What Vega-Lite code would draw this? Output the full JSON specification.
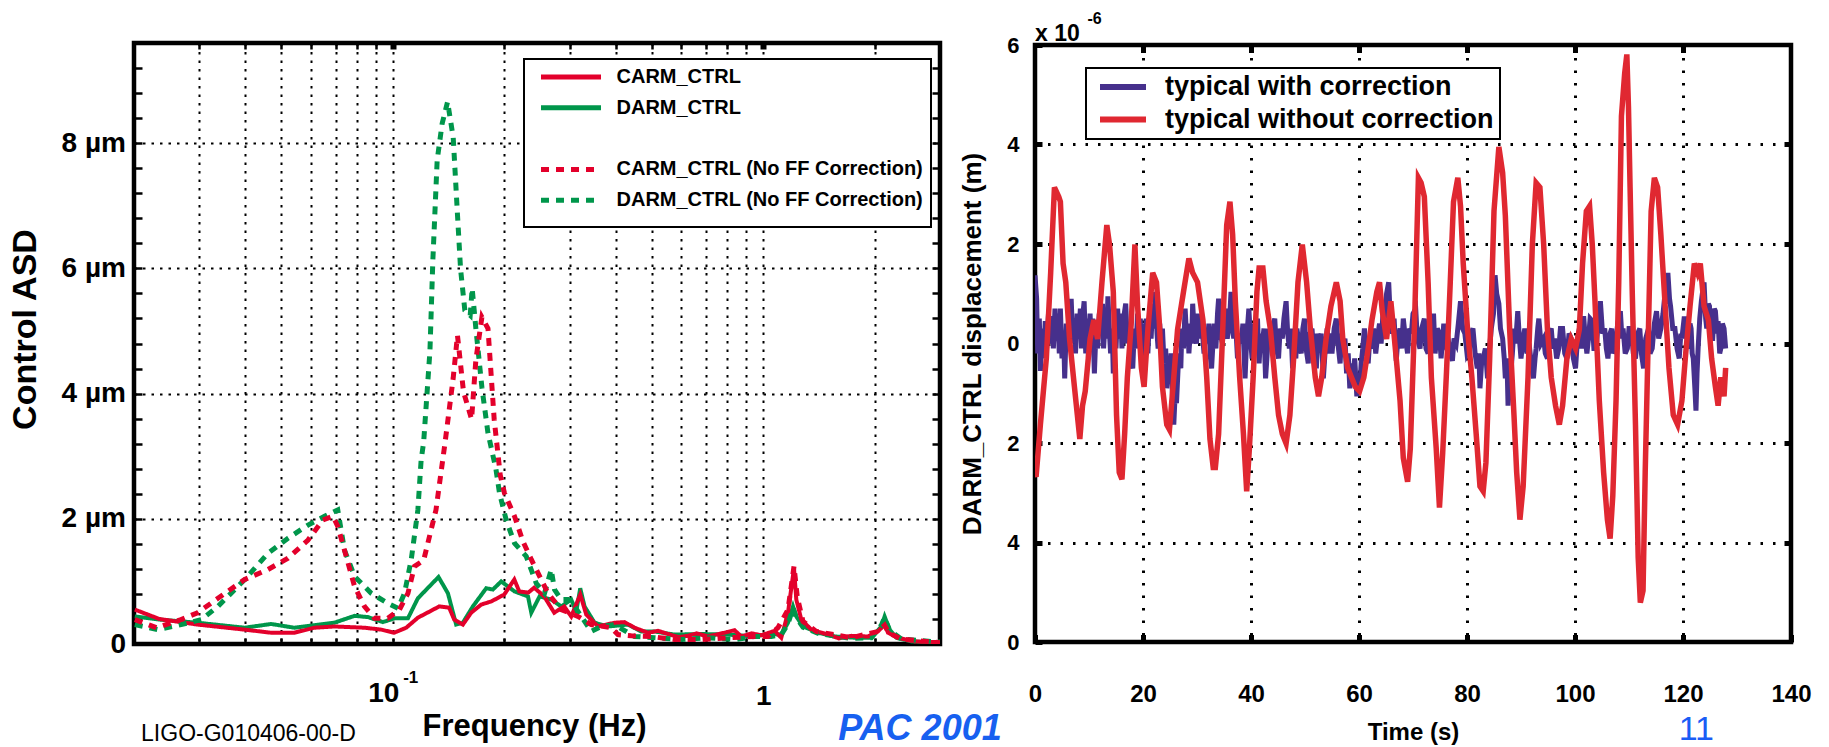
{
  "$schema": "https://vega.github.io/schema/vega-lite/v6.json",
  "background": "white",
  "padding": {"left": 5, "top": 8, "right": 5, "bottom": 0},
  "spacing": 95,
  "bounds": "flush",
  "center": true,
  "resolve": {"scale": {"color": "independent", "strokeDash": "independent"}, "legend": {"color": "independent", "strokeDash": "independent"}},
  "config": {
    "font": "Liberation Sans",
    "view": {"stroke": "black", "strokeWidth": 4.5},
    "axis": {"domain": false, "labelColor": "black", "titleColor": "black", "tickColor": "black", "gridColor": "black", "labelFontWeight": "bold", "titleFontWeight": "bold", "labelFlush": false, "labelOverlap": false, "labelFont": "Liberation Sans", "titleFont": "Liberation Sans", "labelBound": false},
    "legend": {"symbolType": "stroke", "labelColor": "black", "labelFont": "Liberation Sans", "labelFontWeight": "bold", "strokeColor": "black", "fillColor": "white", "strokeWidth": 2, "labelLimit": 800, "direction": "vertical"}
  },
  "datasets": {
    "carm": [
      {"f":0.0201,"a":0.55},{"f":0.0234,"a":0.40},{"f":0.0297,"a":0.31},{"f":0.0397,"a":0.23},{"f":0.0469,"a":0.18},{"f":0.0542,"a":0.18},{"f":0.0613,"a":0.26},{"f":0.0694,"a":0.28},{"f":0.0837,"a":0.26},{"f":0.093,"a":0.23},{"f":0.1008,"a":0.18},{"f":0.1086,"a":0.26},{"f":0.1168,"a":0.42},{"f":0.1334,"a":0.60},{"f":0.1419,"a":0.58},{"f":0.1464,"a":0.39},{"f":0.1545,"a":0.31},{"f":0.1627,"a":0.50},{"f":0.1732,"a":0.63},{"f":0.1844,"a":0.68},{"f":0.1998,"a":0.79},{"f":0.2127,"a":1.03},{"f":0.2194,"a":0.84},{"f":0.232,"a":0.82},{"f":0.2407,"a":0.90},{"f":0.2562,"a":0.76},{"f":0.2726,"a":0.50},{"f":0.2901,"a":0.60},{"f":0.303,"a":0.44},{"f":0.3205,"a":0.79},{"f":0.3327,"a":0.47},{"f":0.3578,"a":0.28},{"f":0.3967,"a":0.34},{"f":0.4221,"a":0.35},{"f":0.4491,"a":0.26},{"f":0.4882,"a":0.18},{"f":0.52,"a":0.21},{"f":0.5527,"a":0.16},{"f":0.59,"a":0.11},{"f":0.6262,"a":0.13},{"f":0.66,"a":0.17},{"f":0.7091,"a":0.12},{"f":0.76,"a":0.16},{"f":0.8366,"a":0.22},{"f":0.8722,"a":0.12},{"f":0.93,"a":0.17},{"f":0.9877,"a":0.14},{"f":1.0728,"a":0.21},{"f":1.1184,"a":0.10},{"f":1.1661,"a":0.50},{"f":1.1851,"a":0.81},{"f":1.2105,"a":1.21},{"f":1.2279,"a":0.71},{"f":1.2667,"a":0.39},{"f":1.3478,"a":0.23},{"f":1.4953,"a":0.15},{"f":1.6,"a":0.09},{"f":1.7288,"a":0.13},{"f":1.9176,"a":0.12},{"f":2.04,"a":0.20},{"f":2.126,"a":0.31},{"f":2.171,"a":0.18},{"f":2.31,"a":0.10},{"f":2.562,"a":0.04},{"f":3.0,"a":0.03}
    ],
    "darm": [
      {"f":0.0201,"a":0.44},{"f":0.0234,"a":0.39},{"f":0.0297,"a":0.34},{"f":0.0398,"a":0.26},{"f":0.0469,"a":0.32},{"f":0.0542,"a":0.26},{"f":0.0614,"a":0.30},{"f":0.0695,"a":0.34},{"f":0.0788,"a":0.45},{"f":0.0856,"a":0.43},{"f":0.094,"a":0.35},{"f":0.101,"a":0.41},{"f":0.1098,"a":0.41},{"f":0.1168,"a":0.73},{"f":0.1328,"a":1.07},{"f":0.1408,"a":0.81},{"f":0.1482,"a":0.31},{"f":0.1545,"a":0.34},{"f":0.1644,"a":0.60},{"f":0.1786,"a":0.89},{"f":0.1862,"a":0.87},{"f":0.1961,"a":1.00},{"f":0.213,"a":0.84},{"f":0.2316,"a":0.76},{"f":0.2364,"a":0.50},{"f":0.2489,"a":0.76},{"f":0.2676,"a":0.71},{"f":0.2848,"a":0.60},{"f":0.303,"a":0.71},{"f":0.3126,"a":0.52},{"f":0.3205,"a":0.89},{"f":0.3292,"a":0.60},{"f":0.3503,"a":0.34},{"f":0.3808,"a":0.28},{"f":0.4311,"a":0.31},{"f":0.4683,"a":0.20},{"f":0.5088,"a":0.20},{"f":0.5762,"a":0.15},{"f":0.6801,"a":0.16},{"f":0.803,"a":0.15},{"f":0.9474,"a":0.12},{"f":1.0297,"a":0.16},{"f":1.1184,"a":0.15},{"f":1.1661,"a":0.34},{"f":1.203,"a":0.60},{"f":1.2279,"a":0.44},{"f":1.2801,"a":0.28},{"f":1.4052,"a":0.18},{"f":1.5578,"a":0.12},{"f":1.7646,"a":0.10},{"f":1.9576,"a":0.10},{"f":2.0833,"a":0.28},{"f":2.126,"a":0.44},{"f":2.193,"a":0.23},{"f":2.287,"a":0.10},{"f":2.51,"a":0.04},{"f":3.0,"a":0.03}
    ],
    "carmnf": [
      {"f":0.0201,"a":0.39},{"f":0.023,"a":0.26},{"f":0.0265,"a":0.38},{"f":0.0297,"a":0.50},{"f":0.0337,"a":0.73},{"f":0.0398,"a":1.03},{"f":0.046,"a":1.19},{"f":0.0521,"a":1.37},{"f":0.059,"a":1.66},{"f":0.0647,"a":1.98},{"f":0.0689,"a":2.04},{"f":0.071,"a":1.88},{"f":0.0748,"a":1.40},{"f":0.0788,"a":0.92},{"f":0.0838,"a":0.60},{"f":0.0892,"a":0.41},{"f":0.0969,"a":0.41},{"f":0.1042,"a":0.55},{"f":0.1098,"a":0.81},{"f":0.1144,"a":1.24},{"f":0.1211,"a":1.34},{"f":0.1307,"a":2.14},{"f":0.1384,"a":3.23},{"f":0.1455,"a":4.25},{"f":0.1494,"a":4.93},{"f":0.1551,"a":4.03},{"f":0.1631,"a":3.59},{"f":0.1675,"a":4.54},{"f":0.1739,"a":5.22},{"f":0.1806,"a":5.04},{"f":0.1877,"a":3.59},{"f":0.1949,"a":2.70},{"f":0.2001,"a":2.41},{"f":0.213,"a":2.04},{"f":0.2244,"a":1.64},{"f":0.2364,"a":1.35},{"f":0.2515,"a":1.03},{"f":0.2622,"a":0.81},{"f":0.2848,"a":0.55},{"f":0.3159,"a":0.44},{"f":0.3432,"a":0.31},{"f":0.3886,"a":0.26},{"f":0.4052,"a":0.15},{"f":0.44,"a":0.13},{"f":0.4984,"a":0.12},{"f":0.5762,"a":0.07},{"f":0.6801,"a":0.07},{"f":0.803,"a":0.10},{"f":0.9474,"a":0.12},{"f":1.0297,"a":0.12},{"f":1.0957,"a":0.26},{"f":1.1661,"a":0.55},{"f":1.2105,"a":1.24},{"f":1.2356,"a":0.75},{"f":1.2801,"a":0.36},{"f":1.3904,"a":0.20},{"f":1.7288,"a":0.10},{"f":2.04,"a":0.20},{"f":2.126,"a":0.30},{"f":2.18,"a":0.18},{"f":2.359,"a":0.08},{"f":3.0,"a":0.02}
    ],
    "darmnf": [
      {"f":0.0201,"a":0.31},{"f":0.0232,"a":0.23},{"f":0.0268,"a":0.31},{"f":0.0304,"a":0.39},{"f":0.0337,"a":0.60},{"f":0.0398,"a":1.03},{"f":0.046,"a":1.45},{"f":0.0521,"a":1.69},{"f":0.059,"a":1.90},{"f":0.0654,"a":2.04},{"f":0.071,"a":2.14},{"f":0.074,"a":1.50},{"f":0.0788,"a":1.08},{"f":0.0874,"a":0.81},{"f":0.0969,"a":0.65},{"f":0.1032,"a":0.57},{"f":0.1075,"a":0.81},{"f":0.1121,"a":1.35},{"f":0.1168,"a":2.14},{"f":0.1192,"a":2.94},{"f":0.1211,"a":3.23},{"f":0.1259,"a":4.68},{"f":0.1282,"a":6.13},{"f":0.1317,"a":7.73},{"f":0.1358,"a":8.31},{"f":0.1405,"a":8.66},{"f":0.1455,"a":8.09},{"f":0.1494,"a":6.86},{"f":0.1523,"a":5.99},{"f":0.1564,"a":5.33},{"f":0.1617,"a":5.25},{"f":0.1637,"a":5.68},{"f":0.1675,"a":5.04},{"f":0.1739,"a":4.10},{"f":0.1806,"a":3.37},{"f":0.1898,"a":2.79},{"f":0.194,"a":2.41},{"f":0.2023,"a":1.98},{"f":0.213,"a":1.61},{"f":0.2291,"a":1.40},{"f":0.2438,"a":0.97},{"f":0.2567,"a":0.81},{"f":0.2676,"a":1.19},{"f":0.2731,"a":0.87},{"f":0.2848,"a":0.71},{"f":0.297,"a":0.71},{"f":0.3094,"a":0.60},{"f":0.3364,"a":0.28},{"f":0.3432,"a":0.20},{"f":0.3652,"a":0.28},{"f":0.3967,"a":0.31},{"f":0.4491,"a":0.12},{"f":0.5088,"a":0.10},{"f":0.6005,"a":0.07},{"f":0.7091,"a":0.10},{"f":0.8366,"a":0.07},{"f":0.9474,"a":0.12},{"f":1.051,"a":0.12},{"f":1.1184,"a":0.15},{"f":1.1661,"a":0.32},{"f":1.203,"a":0.58},{"f":1.2279,"a":0.42},{"f":1.2801,"a":0.27},{"f":1.4052,"a":0.17},{"f":1.7288,"a":0.09},{"f":1.9576,"a":0.10},{"f":2.0833,"a":0.30},{"f":2.126,"a":0.42},{"f":2.193,"a":0.22},{"f":2.359,"a":0.08},{"f":3.0,"a":0.03}
    ],
    "withc": [
      {"t":0.0,"v":1.37},{"t":0.3,"v":0.9},{"t":0.5,"v":-0.2},{"t":0.8,"v":0.5},{"t":1.0,"v":-0.55},{"t":1.3,"v":0.3},{"t":1.6,"v":-0.3},{"t":1.9,"v":0.45},{"t":2.1,"v":-0.2},{"t":2.5,"v":0.6},{"t":2.8,"v":0.0},{"t":3.1,"v":0.55},{"t":3.4,"v":-0.1},{"t":3.7,"v":0.7},{"t":3.9,"v":0.05},{"t":4.2,"v":0.6},{"t":4.5,"v":-0.2},{"t":4.7,"v":0.7},{"t":5.0,"v":-0.3},{"t":5.3,"v":0.2},{"t":5.5,"v":-0.7},{"t":5.8,"v":0.4},{"t":6.0,"v":-0.1},{"t":6.3,"v":0.7},{"t":6.5,"v":0.1},{"t":6.7,"v":0.9},{"t":7.0,"v":0.0},{"t":7.3,"v":0.5},{"t":7.5,"v":-0.2},{"t":7.8,"v":0.6},{"t":8.1,"v":0.1},{"t":8.4,"v":0.7},{"t":8.6,"v":-0.1},{"t":8.8,"v":0.5},{"t":9.1,"v":0.85},{"t":9.4,"v":-0.2},{"t":9.7,"v":0.5},{"t":9.9,"v":-0.3},{"t":10.2,"v":0.6},{"t":10.4,"v":0.0},{"t":10.7,"v":0.5},{"t":11.0,"v":-0.6},{"t":11.3,"v":0.3},{"t":11.6,"v":-0.1},{"t":11.9,"v":0.6},{"t":12.2,"v":0.2},{"t":12.5,"v":0.8},{"t":12.7,"v":-0.1},{"t":13.0,"v":0.5},{"t":13.3,"v":0.1},{"t":13.5,"v":0.95},{"t":13.8,"v":0.2},{"t":14.0,"v":-0.2},{"t":14.3,"v":0.3},{"t":14.5,"v":-0.6},{"t":14.8,"v":0.4},{"t":15.0,"v":-0.1},{"t":15.3,"v":0.7},{"t":15.6,"v":0.1},{"t":15.9,"v":0.6},{"t":16.1,"v":-0.1},{"t":16.4,"v":0.5},{"t":16.8,"v":0.8},{"t":17.1,"v":0.0},{"t":17.4,"v":0.4},{"t":17.7,"v":-0.3},{"t":18.1,"v":-0.5},{"t":18.4,"v":0.3},{"t":18.7,"v":-0.1},{"t":19.0,"v":0.6},{"t":19.2,"v":0.1},{"t":19.5,"v":0.5},{"t":19.7,"v":-0.3},{"t":20.0,"v":0.4},{"t":20.3,"v":-0.1},{"t":20.6,"v":0.5},{"t":20.9,"v":-0.2},{"t":21.2,"v":0.5},{"t":21.5,"v":0.1},{"t":21.8,"v":0.8},{"t":22.1,"v":0.3},{"t":22.3,"v":1.04},{"t":22.6,"v":0.2},{"t":22.8,"v":-0.1},{"t":23.1,"v":0.4},{"t":23.3,"v":0.0},{"t":23.6,"v":0.3},{"t":23.9,"v":-0.4},{"t":24.2,"v":-0.1},{"t":24.4,"v":-0.9},{"t":24.7,"v":-0.3},{"t":24.9,"v":-0.7},{"t":25.2,"v":-0.2},{"t":25.5,"v":-1.2},{"t":25.7,"v":-1.63},{"t":26.0,"v":-0.9},{"t":26.2,"v":-1.2},{"t":26.5,"v":-0.5},{"t":26.8,"v":-0.2},{"t":27.0,"v":-0.5},{"t":27.2,"v":0.3},{"t":27.5,"v":-0.1},{"t":27.8,"v":0.7},{"t":28.1,"v":0.1},{"t":28.3,"v":0.4},{"t":28.5,"v":-0.2},{"t":28.8,"v":0.3},{"t":29.0,"v":0.0},{"t":29.2,"v":0.8},{"t":29.5,"v":0.2},{"t":29.9,"v":0.0},{"t":30.2,"v":0.6},{"t":30.6,"v":0.1},{"t":30.9,"v":0.4},{"t":31.3,"v":-0.2},{"t":31.6,"v":0.3},{"t":31.9,"v":0.0},{"t":32.2,"v":0.4},{"t":32.5,"v":-0.3},{"t":32.7,"v":-0.5},{"t":33.0,"v":0.1},{"t":33.2,"v":0.4},{"t":33.5,"v":-0.1},{"t":33.8,"v":0.6},{"t":34.0,"v":0.9},{"t":34.3,"v":0.2},{"t":34.7,"v":0.0},{"t":35.0,"v":0.5},{"t":35.3,"v":0.7},{"t":35.6,"v":0.1},{"t":36.0,"v":0.4},{"t":36.3,"v":1.04},{"t":36.6,"v":0.3},{"t":36.8,"v":0.1},{"t":37.1,"v":0.5},{"t":37.5,"v":-0.3},{"t":37.8,"v":0.2},{"t":38.2,"v":0.0},{"t":38.5,"v":0.4},{"t":38.9,"v":-0.7},{"t":39.2,"v":0.1},{"t":39.6,"v":0.7},{"t":39.9,"v":0.1},{"t":40.2,"v":-0.3},{"t":40.5,"v":0.4},{"t":40.9,"v":0.2},{"t":41.2,"v":0.5},{"t":41.5,"v":-0.4},{"t":41.8,"v":0.2},{"t":42.0,"v":-0.1},{"t":42.4,"v":0.3},{"t":42.7,"v":-0.7},{"t":43.0,"v":-0.2},{"t":43.3,"v":0.3},{"t":43.6,"v":-0.1},{"t":44.0,"v":0.3},{"t":44.4,"v":0.5},{"t":44.7,"v":-0.1},{"t":45.1,"v":-0.3},{"t":45.4,"v":0.3},{"t":45.8,"v":0.1},{"t":46.1,"v":0.5},{"t":46.5,"v":0.85},{"t":46.8,"v":0.2},{"t":47.1,"v":-0.1},{"t":47.4,"v":0.3},{"t":47.7,"v":-0.5},{"t":48.0,"v":0.0},{"t":48.3,"v":-0.3},{"t":48.5,"v":0.3},{"t":48.9,"v":0.0},{"t":49.3,"v":-0.2},{"t":49.6,"v":0.3},{"t":49.9,"v":0.5},{"t":50.2,"v":-0.1},{"t":50.6,"v":-0.4},{"t":50.9,"v":0.2},{"t":51.3,"v":0.3},{"t":51.6,"v":-0.2},{"t":51.8,"v":0.2},{"t":52.1,"v":-0.5},{"t":52.4,"v":0.2},{"t":52.7,"v":-0.1},{"t":53.0,"v":0.2},{"t":53.4,"v":-0.7},{"t":53.7,"v":-0.2},{"t":54.1,"v":0.3},{"t":54.4,"v":-0.2},{"t":54.7,"v":0.2},{"t":55.0,"v":-0.2},{"t":55.4,"v":0.3},{"t":55.8,"v":0.5},{"t":56.1,"v":0.0},{"t":56.5,"v":-0.4},{"t":56.8,"v":0.2},{"t":57.0,"v":-0.1},{"t":57.4,"v":0.1},{"t":57.7,"v":-0.6},{"t":58.0,"v":-0.2},{"t":58.3,"v":-0.9},{"t":58.6,"v":-0.4},{"t":58.9,"v":-0.7},{"t":59.2,"v":-0.3},{"t":59.6,"v":-1.06},{"t":59.9,"v":-0.6},{"t":60.2,"v":-0.8},{"t":60.4,"v":-0.4},{"t":60.7,"v":-0.1},{"t":61.0,"v":0.3},{"t":61.3,"v":-0.1},{"t":61.7,"v":-0.4},{"t":62.0,"v":0.1},{"t":62.4,"v":-0.1},{"t":62.7,"v":0.3},{"t":63.1,"v":-0.2},{"t":63.4,"v":0.1},{"t":63.8,"v":0.4},{"t":64.1,"v":0.0},{"t":64.5,"v":0.7},{"t":64.8,"v":0.3},{"t":65.1,"v":1.0},{"t":65.5,"v":1.23},{"t":65.8,"v":0.5},{"t":66.2,"v":0.2},{"t":66.5,"v":0.5},{"t":66.9,"v":-0.35},{"t":67.2,"v":0.1},{"t":67.6,"v":0.3},{"t":67.9,"v":-0.1},{"t":68.2,"v":0.5},{"t":68.6,"v":0.1},{"t":69.0,"v":-0.2},{"t":69.3,"v":0.3},{"t":69.7,"v":0.2},{"t":70.0,"v":0.6},{"t":70.5,"v":0.7},{"t":70.8,"v":0.1},{"t":71.3,"v":-0.1},{"t":71.6,"v":0.3},{"t":72.1,"v":0.5},{"t":72.4,"v":-0.1},{"t":72.8,"v":-0.2},{"t":73.1,"v":0.3},{"t":73.4,"v":0.2},{"t":73.8,"v":0.6},{"t":74.1,"v":-0.2},{"t":74.5,"v":0.3},{"t":74.9,"v":0.2},{"t":75.2,"v":-0.3},{"t":75.7,"v":0.4},{"t":76.0,"v":0.0},{"t":76.5,"v":0.1},{"t":76.9,"v":-0.2},{"t":77.3,"v":-0.35},{"t":77.6,"v":0.1},{"t":78.0,"v":0.0},{"t":78.4,"v":0.4},{"t":78.8,"v":0.85},{"t":79.2,"v":0.3},{"t":79.6,"v":0.2},{"t":80.0,"v":-0.2},{"t":80.4,"v":-0.1},{"t":80.7,"v":0.2},{"t":81.1,"v":0.3},{"t":81.5,"v":-0.2},{"t":81.9,"v":-0.5},{"t":82.2,"v":-0.2},{"t":82.4,"v":-0.9},{"t":82.7,"v":-0.4},{"t":83.0,"v":-0.3},{"t":83.4,"v":-0.1},{"t":83.8,"v":-0.7},{"t":84.1,"v":-0.2},{"t":84.5,"v":0.3},{"t":84.9,"v":0.6},{"t":85.2,"v":1.37},{"t":85.5,"v":1.0},{"t":85.9,"v":0.8},{"t":86.2,"v":0.3},{"t":86.6,"v":0.1},{"t":86.9,"v":-0.3},{"t":87.1,"v":-0.7},{"t":87.4,"v":-0.3},{"t":87.6,"v":-1.25},{"t":87.9,"v":-0.8},{"t":88.1,"v":-0.6},{"t":88.4,"v":-0.2},{"t":88.7,"v":0.3},{"t":89.0,"v":0.0},{"t":89.4,"v":0.65},{"t":89.7,"v":0.1},{"t":90.0,"v":-0.3},{"t":90.4,"v":0.1},{"t":90.7,"v":0.3},{"t":91.1,"v":-0.2},{"t":91.5,"v":0.0},{"t":91.9,"v":-0.4},{"t":92.3,"v":-0.7},{"t":92.6,"v":-0.3},{"t":92.8,"v":-0.1},{"t":93.1,"v":0.3},{"t":93.3,"v":0.5},{"t":93.7,"v":0.0},{"t":94.2,"v":0.1},{"t":94.5,"v":-0.2},{"t":94.9,"v":-0.3},{"t":95.2,"v":0.2},{"t":95.6,"v":0.3},{"t":95.9,"v":-0.1},{"t":96.2,"v":0.1},{"t":96.6,"v":-0.3},{"t":97.0,"v":-0.1},{"t":97.3,"v":0.3},{"t":97.7,"v":0.3},{"t":98.1,"v":-0.2},{"t":98.5,"v":-0.3},{"t":98.9,"v":0.2},{"t":99.3,"v":0.1},{"t":99.7,"v":-0.3},{"t":100.1,"v":-0.5},{"t":100.4,"v":0.0},{"t":100.8,"v":0.3},{"t":101.2,"v":-0.1},{"t":101.6,"v":0.55},{"t":101.9,"v":0.1},{"t":102.2,"v":-0.2},{"t":102.5,"v":0.1},{"t":102.8,"v":0.5},{"t":103.2,"v":0.45},{"t":103.5,"v":-0.1},{"t":103.9,"v":-0.1},{"t":104.3,"v":0.4},{"t":104.7,"v":0.85},{"t":105.1,"v":0.2},{"t":105.5,"v":0.3},{"t":105.8,"v":-0.1},{"t":106.1,"v":-0.3},{"t":106.5,"v":0.2},{"t":106.8,"v":0.3},{"t":107.1,"v":-0.2},{"t":107.5,"v":-0.1},{"t":107.9,"v":0.4},{"t":108.4,"v":0.65},{"t":108.7,"v":0.1},{"t":108.9,"v":0.3},{"t":109.3,"v":-0.2},{"t":109.7,"v":-0.1},{"t":110.0,"v":0.3},{"t":110.4,"v":0.3},{"t":110.8,"v":-0.2},{"t":111.2,"v":-0.3},{"t":111.6,"v":0.2},{"t":112.0,"v":0.3},{"t":112.3,"v":-0.2},{"t":112.7,"v":-0.5},{"t":113.1,"v":0.1},{"t":113.6,"v":0.3},{"t":113.9,"v":-0.2},{"t":114.3,"v":-0.1},{"t":114.7,"v":0.4},{"t":115.1,"v":0.65},{"t":115.5,"v":0.1},{"t":115.9,"v":0.3},{"t":116.3,"v":0.6},{"t":116.7,"v":1.04},{"t":117.0,"v":0.8},{"t":117.2,"v":1.42},{"t":117.5,"v":0.9},{"t":117.7,"v":0.75},{"t":118.1,"v":0.3},{"t":118.5,"v":0.3},{"t":118.9,"v":-0.1},{"t":119.3,"v":-0.3},{"t":119.6,"v":0.2},{"t":119.8,"v":0.1},{"t":120.2,"v":0.5},{"t":120.5,"v":0.5},{"t":120.8,"v":0.0},{"t":121.1,"v":-0.1},{"t":121.3,"v":0.4},{"t":121.5,"v":0.3},{"t":121.7,"v":-0.2},{"t":121.9,"v":-0.3},{"t":122.2,"v":-0.9},{"t":122.4,"v":-1.35},{"t":122.6,"v":-0.6},{"t":122.8,"v":-0.1},{"t":123.1,"v":0.5},{"t":123.4,"v":0.85},{"t":123.7,"v":1.1},{"t":123.9,"v":1.23},{"t":124.2,"v":0.5},{"t":124.4,"v":0.3},{"t":124.7,"v":0.8},{"t":124.9,"v":0.75},{"t":125.2,"v":0.1},{"t":125.5,"v":0.1},{"t":125.8,"v":0.7},{"t":126.0,"v":0.65},{"t":126.3,"v":0.2},{"t":126.5,"v":0.45},{"t":126.8,"v":-0.2},{"t":127.0,"v":-0.1},{"t":127.3,"v":0.4},{"t":127.6,"v":0.3},{"t":127.9,"v":-0.1}
    ],
    "without": [
      {"t":0,"v":-2.6},{"t":0.2,"v":-2.68},{"t":1.0,"v":-1.63},{"t":2.1,"v":-0.3},{"t":2.9,"v":1.42},{"t":3.6,"v":3.14},{"t":4.4,"v":2.95},{"t":4.7,"v":2.85},{"t":5.2,"v":1.61},{"t":5.7,"v":1.23},{"t":6.4,"v":0.09},{"t":7.3,"v":-0.87},{"t":8.3,"v":-1.92},{"t":8.8,"v":-1.25},{"t":9.3,"v":-0.96},{"t":10.2,"v":0.09},{"t":10.9,"v":0.47},{"t":11.6,"v":0.09},{"t":12.4,"v":1.23},{"t":13.3,"v":2.38},{"t":13.8,"v":1.99},{"t":14.5,"v":1.04},{"t":15.1,"v":-1.44},{"t":15.6,"v":-2.59},{"t":16.1,"v":-2.73},{"t":16.6,"v":-1.82},{"t":17.1,"v":-0.68},{"t":17.8,"v":0.37},{"t":18.5,"v":1.99},{"t":19.0,"v":0.75},{"t":19.7,"v":-0.49},{"t":20.2,"v":-0.87},{"t":20.9,"v":0.28},{"t":21.8,"v":1.42},{"t":22.5,"v":1.23},{"t":23.0,"v":0.47},{"t":23.6,"v":-0.87},{"t":24.4,"v":-1.63},{"t":24.9,"v":-1.73},{"t":25.7,"v":-0.68},{"t":26.4,"v":0.28},{"t":27.5,"v":1.04},{"t":28.5,"v":1.71},{"t":29.2,"v":1.42},{"t":30.1,"v":1.23},{"t":31.1,"v":0.47},{"t":31.8,"v":-0.68},{"t":32.4,"v":-1.92},{"t":33.0,"v":-2.49},{"t":33.4,"v":-2.49},{"t":34.0,"v":-1.82},{"t":34.7,"v":0.09},{"t":35.5,"v":2.38},{"t":36.1,"v":2.85},{"t":36.6,"v":2.19},{"t":37.1,"v":0.85},{"t":37.9,"v":-0.68},{"t":38.6,"v":-1.82},{"t":39.2,"v":-2.97},{"t":39.7,"v":-2.11},{"t":40.4,"v":-0.68},{"t":41.1,"v":1.04},{"t":41.5,"v":1.52},{"t":42.2,"v":1.52},{"t":42.8,"v":0.85},{"t":43.6,"v":0.28},{"t":44.4,"v":-0.68},{"t":45.1,"v":-1.44},{"t":45.8,"v":-1.82},{"t":46.5,"v":-2.01},{"t":47.2,"v":-1.44},{"t":47.9,"v":-0.3},{"t":48.7,"v":1.23},{"t":49.5,"v":1.99},{"t":50.3,"v":1.23},{"t":51.0,"v":0.28},{"t":51.9,"v":-0.68},{"t":52.5,"v":-1.06},{"t":53.1,"v":-0.68},{"t":53.9,"v":0.09},{"t":54.8,"v":0.75},{"t":55.8,"v":1.23},{"t":56.5,"v":0.85},{"t":57.0,"v":0.09},{"t":57.9,"v":-0.49},{"t":58.6,"v":-0.68},{"t":59.3,"v":-0.87},{"t":60.1,"v":-0.96},{"t":60.9,"v":-0.68},{"t":61.7,"v":-0.1},{"t":62.4,"v":0.47},{"t":63.3,"v":1.04},{"t":63.8,"v":1.23},{"t":64.3,"v":0.66},{"t":65.1,"v":0.09},{"t":65.9,"v":0.85},{"t":66.4,"v":0.28},{"t":66.9,"v":-0.3},{"t":67.6,"v":-1.15},{"t":68.2,"v":-2.3},{"t":69.0,"v":-2.78},{"t":69.5,"v":-2.11},{"t":70.3,"v":0.47},{"t":71.0,"v":3.33},{"t":71.5,"v":3.23},{"t":72.1,"v":2.95},{"t":72.8,"v":1.23},{"t":73.4,"v":-0.68},{"t":74.3,"v":-2.11},{"t":74.9,"v":-3.3},{"t":75.5,"v":-2.2},{"t":76.2,"v":-0.58},{"t":76.9,"v":1.23},{"t":77.5,"v":2.85},{"t":78.3,"v":3.33},{"t":78.8,"v":2.76},{"t":79.3,"v":1.61},{"t":80.1,"v":0.28},{"t":80.9,"v":-0.68},{"t":81.7,"v":-1.82},{"t":82.4,"v":-2.87},{"t":83.0,"v":-2.97},{"t":83.5,"v":-2.4},{"t":84.2,"v":-0.3},{"t":85.0,"v":2.66},{"t":85.9,"v":3.95},{"t":86.6,"v":3.43},{"t":87.1,"v":2.57},{"t":87.9,"v":0.28},{"t":88.7,"v":-1.44},{"t":89.2,"v":-2.59},{"t":89.8,"v":-3.54},{"t":90.4,"v":-2.87},{"t":91.3,"v":-0.68},{"t":92.1,"v":1.99},{"t":92.8,"v":3.23},{"t":93.5,"v":3.14},{"t":94.2,"v":1.99},{"t":94.9,"v":0.28},{"t":95.6,"v":-0.68},{"t":96.4,"v":-1.25},{"t":97.1,"v":-1.63},{"t":97.7,"v":-1.25},{"t":98.5,"v":-0.3},{"t":99.3,"v":0.09},{"t":100.1,"v":-0.1},{"t":100.8,"v":0.28},{"t":101.4,"v":1.61},{"t":102.1,"v":2.66},{"t":102.7,"v":2.76},{"t":103.2,"v":1.99},{"t":103.7,"v":0.85},{"t":104.5,"v":-1.15},{"t":105.3,"v":-2.59},{"t":106.0,"v":-3.54},{"t":106.5,"v":-3.92},{"t":107.0,"v":-3.06},{"t":107.6,"v":-1.15},{"t":108.1,"v":1.23},{"t":108.6,"v":4.57},{"t":109.2,"v":5.43},{"t":109.6,"v":5.81},{"t":109.9,"v":4.76},{"t":110.2,"v":3.14},{"t":110.6,"v":1.04},{"t":111.2,"v":-1.63},{"t":111.7,"v":-4.3},{"t":112.1,"v":-5.21},{"t":112.6,"v":-4.97},{"t":113.0,"v":-2.59},{"t":113.6,"v":0.28},{"t":114.1,"v":2.66},{"t":114.7,"v":3.33},{"t":115.3,"v":3.14},{"t":115.9,"v":2.19},{"t":116.7,"v":0.75},{"t":117.4,"v":-0.49},{"t":118.2,"v":-1.44},{"t":119.0,"v":-1.63},{"t":119.8,"v":-1.15},{"t":120.5,"v":-0.2},{"t":121.3,"v":0.75},{"t":122.1,"v":1.61},{"t":122.7,"v":1.42},{"t":123.2,"v":1.61},{"t":123.9,"v":0.75},{"t":124.7,"v":0.47},{"t":125.3,"v":-0.3},{"t":126.0,"v":-0.87},{"t":126.5,"v":-1.25},{"t":127.0,"v":-0.68},{"t":127.6,"v":-1.06},{"t":127.9,"v":-0.49}
    ]
  },
  "hconcat": [
    {
      "width": 806,
      "height": 601,
      "layer": [
        {
          "data": {"name": "darm"},
          "mark": {"type": "line", "strokeWidth": 4, "clip": true},
          "encoding": {
            "x": {"field": "f", "type": "quantitative", "scale": {"type": "log", "domain": [0.02, 3], "nice": false},
              "axis": {"orient": "bottom", "values": [0.02,0.03,0.04,0.05,0.06,0.07,0.08,0.09,0.1,0.2,0.3,0.4,0.5,0.6,0.7,0.8,0.9,1,2,3],
                "labelExpr": "datum.value == 1 ? '1' : ''",
                "labelFontSize": 28, "labelPadding": 44.7, "tickSize": -6, "tickWidth": 2.5,
                "grid": true, "gridDash": [2.5, 6], "gridWidth": 2,
                "title": "Frequency (Hz)", "titleFontSize": 31, "titleX": 400, "titleY": 91, "titleBaseline": "alphabetic", "titleAngle": 0}},
            "y": {"field": "a", "type": "quantitative", "scale": {"domain": [0, 9.6], "nice": false, "zero": false},
              "axis": {"orient": "left", "values": [0,0.4,0.8,1.2,1.6,2,2.4,2.8,3.2,3.6,4,4.4,4.8,5.2,5.6,6,6.4,6.8,7.2,7.6,8,8.4,8.8,9.2],
                "labelExpr": "datum.value == 0 ? '0' : (datum.value % 2 == 0 ? datum.value + ' µm' : '')",
                "labelFontSize": 28, "labelPadding": 16.5, "tickSize": -8, "tickWidth": 2.5,
                "grid": true, "gridDash": [2.5, 6], "gridWidth": 2,
                "gridOpacity": {"condition": {"test": "datum.value % 2 == 0", "value": 1}, "value": 0},
                "title": "Control ASD", "titleFontSize": 34, "titleAngle": 270, "titleX": -99, "titleY": 286, "titleBaseline": "alphabetic", "titleAlign": "center"}},
            "color": {"datum": "DARM_CTRL", "type": "nominal",
              "scale": {"domain": ["CARM_CTRL", "DARM_CTRL", " ", "CARM_CTRL (No FF Correction)", "DARM_CTRL (No FF Correction)"], "range": ["#e3002b", "#00964b", "rgba(0,0,0,0)", "#e3002b", "#00964b"]},
              "legend": {"orient": "none", "legendX": 390, "legendY": 16, "symbolSize": 3600, "symbolStrokeWidth": 5, "symbolOffset": 7.5, "labelOffset": 13, "labelFontSize": 20, "labelFontWeight": "bold", "padding": 7, "clipHeight": 22, "rowPadding": 8.8, "title": " ", "titleOrient": "bottom", "titleFontSize": 8, "titlePadding": 1}},
            "strokeDash": {"datum": "DARM_CTRL", "type": "nominal",
              "scale": {"domain": ["CARM_CTRL", "DARM_CTRL", " ", "CARM_CTRL (No FF Correction)", "DARM_CTRL (No FF Correction)"], "range": [[1, 0], [1, 0], [1, 0], [8, 7], [8, 7]]},
              "legend": {"orient": "none", "legendX": 390, "legendY": 16, "symbolSize": 3600, "symbolStrokeWidth": 5, "symbolOffset": 7.5, "labelOffset": 13, "labelFontSize": 20, "labelFontWeight": "bold", "padding": 7, "clipHeight": 22, "rowPadding": 8.8, "title": " ", "titleOrient": "bottom", "titleFontSize": 8, "titlePadding": 1}}
          }
        },
        {
          "data": {"name": "carm"},
          "mark": {"type": "line", "strokeWidth": 4, "clip": true},
          "encoding": {
            "x": {"field": "f", "type": "quantitative", "scale": {"type": "log", "domain": [0.02, 3], "nice": false}, "axis": null},
            "y": {"field": "a", "type": "quantitative", "scale": {"domain": [0, 9.6], "nice": false, "zero": false}, "axis": null},
            "color": {"datum": "CARM_CTRL", "type": "nominal",
              "scale": {"domain": ["CARM_CTRL", "DARM_CTRL", " ", "CARM_CTRL (No FF Correction)", "DARM_CTRL (No FF Correction)"], "range": ["#e3002b", "#00964b", "rgba(0,0,0,0)", "#e3002b", "#00964b"]}},
            "strokeDash": {"datum": "CARM_CTRL", "type": "nominal",
              "scale": {"domain": ["CARM_CTRL", "DARM_CTRL", " ", "CARM_CTRL (No FF Correction)", "DARM_CTRL (No FF Correction)"], "range": [[1, 0], [1, 0], [1, 0], [8, 7], [8, 7]]}}
          }
        },
        {
          "data": {"name": "darmnf"},
          "mark": {"type": "line", "strokeWidth": 5, "clip": true},
          "encoding": {
            "x": {"field": "f", "type": "quantitative", "scale": {"type": "log", "domain": [0.02, 3], "nice": false},
              "axis": {"orient": "top", "values": [0.02,0.03,0.04,0.05,0.06,0.07,0.08,0.09,0.1,0.2,0.3,0.4,0.5,0.6,0.7,0.8,0.9,1,2,3], "labels": false, "grid": false, "title": null, "tickSize": -6, "minExtent": 0, "maxExtent": 0,
                "tickWidth": {"condition": {"test": "datum.value == 0.1 || datum.value == 1", "value": 6}, "value": 2.5}}},
            "y": {"field": "a", "type": "quantitative", "scale": {"domain": [0, 9.6], "nice": false, "zero": false},
              "axis": {"orient": "right", "values": [0.4,0.8,1.2,1.6,2,2.4,2.8,3.2,3.6,4,4.4,4.8,5.2,5.6,6,6.4,6.8,7.2,7.6,8,8.4,8.8,9.2], "labels": false, "grid": false, "title": null, "tickSize": -8, "tickWidth": 2.5, "minExtent": 0, "maxExtent": 0}},
            "color": {"datum": "DARM_CTRL (No FF Correction)", "type": "nominal",
              "scale": {"domain": ["CARM_CTRL", "DARM_CTRL", " ", "CARM_CTRL (No FF Correction)", "DARM_CTRL (No FF Correction)"], "range": ["#e3002b", "#00964b", "rgba(0,0,0,0)", "#e3002b", "#00964b"]}},
            "strokeDash": {"datum": "DARM_CTRL (No FF Correction)", "type": "nominal",
              "scale": {"domain": ["CARM_CTRL", "DARM_CTRL", " ", "CARM_CTRL (No FF Correction)", "DARM_CTRL (No FF Correction)"], "range": [[1, 0], [1, 0], [1, 0], [8, 7], [8, 7]]}}
          }
        },
        {
          "data": {"name": "carmnf"},
          "mark": {"type": "line", "strokeWidth": 5, "clip": true},
          "encoding": {
            "x": {"field": "f", "type": "quantitative", "scale": {"type": "log", "domain": [0.02, 3], "nice": false}, "axis": null},
            "y": {"field": "a", "type": "quantitative", "scale": {"domain": [0, 9.6], "nice": false, "zero": false}, "axis": null},
            "color": {"datum": "CARM_CTRL (No FF Correction)", "type": "nominal",
              "scale": {"domain": ["CARM_CTRL", "DARM_CTRL", " ", "CARM_CTRL (No FF Correction)", "DARM_CTRL (No FF Correction)"], "range": ["#e3002b", "#00964b", "rgba(0,0,0,0)", "#e3002b", "#00964b"]}},
            "strokeDash": {"datum": "CARM_CTRL (No FF Correction)", "type": "nominal",
              "scale": {"domain": ["CARM_CTRL", "DARM_CTRL", " ", "CARM_CTRL (No FF Correction)", "DARM_CTRL (No FF Correction)"], "range": [[1, 0], [1, 0], [1, 0], [8, 7], [8, 7]]}}
          }
        },
        {
          "data": {"values": [{"f": 0.0945, "a": -0.93, "txt": "10"}]},
          "mark": {"type": "text", "align": "center", "baseline": "alphabetic", "fontSize": 28, "fontWeight": "bold", "font": "Liberation Sans", "color": "black", "clip": false},
          "encoding": {
            "x": {"field": "f", "type": "quantitative", "scale": {"type": "log", "domain": [0.02, 3], "nice": false}, "axis": null},
            "y": {"field": "a", "type": "quantitative", "scale": {"domain": [0, 9.6], "nice": false, "zero": false}, "axis": null},
            "text": {"field": "txt"}
          }
        },
        {
          "data": {"values": [{"f": 0.1066, "a": -0.63, "txt": "-1"}]},
          "mark": {"type": "text", "align": "left", "baseline": "alphabetic", "fontSize": 17, "fontWeight": "bold", "font": "Liberation Sans", "color": "black", "clip": false},
          "encoding": {
            "x": {"field": "f", "type": "quantitative", "scale": {"type": "log", "domain": [0.02, 3], "nice": false}, "axis": null},
            "y": {"field": "a", "type": "quantitative", "scale": {"domain": [0, 9.6], "nice": false, "zero": false}, "axis": null},
            "text": {"field": "txt"}
          }
        },
        {
          "data": {"values": [{"f": 0.0209, "a": -1.545, "txt": "LIGO-G010406-00-D"}]},
          "mark": {"type": "text", "align": "left", "baseline": "alphabetic", "fontSize": 23, "font": "Liberation Sans", "color": "black", "clip": false},
          "encoding": {
            "x": {"field": "f", "type": "quantitative", "scale": {"type": "log", "domain": [0.02, 3], "nice": false}, "axis": null},
            "y": {"field": "a", "type": "quantitative", "scale": {"domain": [0, 9.6], "nice": false, "zero": false}, "axis": null},
            "text": {"field": "txt"}
          }
        },
        {
          "data": {"values": [{"f": 1.594, "a": -1.53, "txt": "PAC 2001"}]},
          "mark": {"type": "text", "align": "left", "baseline": "alphabetic", "fontSize": 36, "fontWeight": "bold", "fontStyle": "italic", "font": "Liberation Sans", "color": "#1760f0", "clip": false},
          "encoding": {
            "x": {"field": "f", "type": "quantitative", "scale": {"type": "log", "domain": [0.02, 3], "nice": false}, "axis": null},
            "y": {"field": "a", "type": "quantitative", "scale": {"domain": [0, 9.6], "nice": false, "zero": false}, "axis": null},
            "text": {"field": "txt"}
          }
        }
      ]
    },
    {
      "width": 756,
      "height": 597,
      "layer": [
        {
          "data": {"name": "withc"},
          "mark": {"type": "line", "strokeWidth": 5, "clip": true},
          "encoding": {
            "x": {"field": "t", "type": "quantitative", "scale": {"domain": [0, 140], "nice": false, "zero": false},
              "axis": {"orient": "bottom", "values": [0,20,40,60,80,100,120,140], "labelFontSize": 24, "labelPadding": 48, "tickSize": -7.5, "tickWidth": 5,
                "grid": true, "gridDash": [2.5, 10], "gridWidth": 3,
                "title": "Time (s)", "titleFontSize": 24, "titleY": 97, "titleX": 378, "titleBaseline": "alphabetic"}},
            "y": {"field": "v", "type": "quantitative", "scale": {"domain": [-6, 6], "nice": false, "zero": false},
              "axis": {"orient": "left", "values": [-6,-4,-2,0,2,4,6], "labelExpr": "datum.value == -6 ? '0' : '' + abs(datum.value)", "labelFontSize": 22, "labelPadding": 23, "tickSize": -7, "tickWidth": 5,
                "grid": true, "gridDash": [2.5, 10], "gridWidth": 3,
                "title": "DARM_CTRL displacement (m)", "titleFontSize": 26, "titleAngle": 270, "titleX": -54.4, "titleY": 298.5, "titleBaseline": "alphabetic", "titleAlign": "center"}},
            "color": {"datum": "typical with correction", "type": "nominal",
              "scale": {"domain": ["typical with correction", "typical without correction"], "range": ["#46308c", "#e02831"]},
              "legend": {"orient": "none", "legendX": 51, "legendY": 23, "symbolSize": 2116, "symbolStrokeWidth": 6, "symbolOffset": 5, "labelOffset": 16, "labelFontSize": 27, "labelFontWeight": "bold", "padding": 6, "clipHeight": 26, "rowPadding": 5.6, "title": null}}
          }
        },
        {
          "data": {"name": "without"},
          "mark": {"type": "line", "strokeWidth": 5.5, "clip": true},
          "encoding": {
            "x": {"field": "t", "type": "quantitative", "scale": {"domain": [0, 140], "nice": false, "zero": false},
              "axis": {"orient": "top", "values": [20,40,60,80,100,120], "labels": false, "grid": false, "title": null, "tickSize": -7.5, "tickWidth": 5, "minExtent": 0, "maxExtent": 0}},
            "y": {"field": "v", "type": "quantitative", "scale": {"domain": [-6, 6], "nice": false, "zero": false},
              "axis": {"orient": "right", "values": [-4,-2,0,2,4], "labels": false, "grid": false, "title": null, "tickSize": -7, "tickWidth": 5, "minExtent": 0, "maxExtent": 0}},
            "color": {"datum": "typical without correction", "type": "nominal",
              "scale": {"domain": ["typical with correction", "typical without correction"], "range": ["#46308c", "#e02831"]}}
          }
        },
        {
          "data": {"values": [{"t": 0, "v": 6.08, "txt": "x 10"}]},
          "mark": {"type": "text", "align": "left", "baseline": "alphabetic", "fontSize": 23, "fontWeight": "bold", "font": "Liberation Sans", "color": "black", "clip": false},
          "encoding": {
            "x": {"field": "t", "type": "quantitative", "scale": {"domain": [0, 140], "nice": false, "zero": false}, "axis": null},
            "y": {"field": "v", "type": "quantitative", "scale": {"domain": [-6, 6], "nice": false, "zero": false}, "axis": null},
            "text": {"field": "txt"}
          }
        },
        {
          "data": {"values": [{"t": 9.7, "v": 6.42, "txt": "-6"}]},
          "mark": {"type": "text", "align": "left", "baseline": "alphabetic", "fontSize": 16, "fontWeight": "bold", "font": "Liberation Sans", "color": "black", "clip": false},
          "encoding": {
            "x": {"field": "t", "type": "quantitative", "scale": {"domain": [0, 140], "nice": false, "zero": false}, "axis": null},
            "y": {"field": "v", "type": "quantitative", "scale": {"domain": [-6, 6], "nice": false, "zero": false}, "axis": null},
            "text": {"field": "txt"}
          }
        },
        {
          "data": {"values": [{"t": 119.2, "v": -7.97, "txt": "11"}]},
          "mark": {"type": "text", "align": "left", "baseline": "alphabetic", "fontSize": 34, "font": "Liberation Sans", "color": "#1a5cf5", "clip": false},
          "encoding": {
            "x": {"field": "t", "type": "quantitative", "scale": {"domain": [0, 140], "nice": false, "zero": false}, "axis": null},
            "y": {"field": "v", "type": "quantitative", "scale": {"domain": [-6, 6], "nice": false, "zero": false}, "axis": null},
            "text": {"field": "txt"}
          }
        }
      ]
    }
  ]
}
